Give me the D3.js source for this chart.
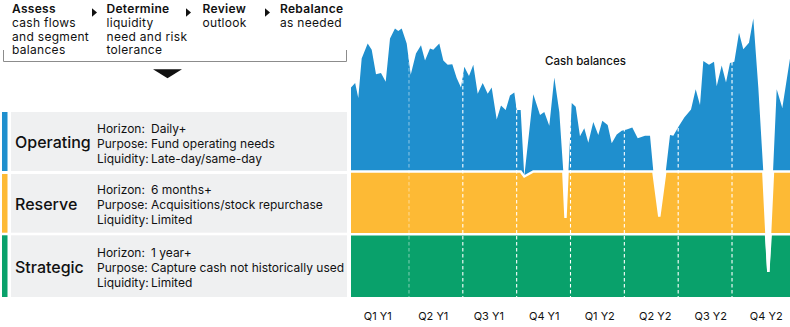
<!DOCTYPE html>
<html><head><meta charset="utf-8">
<script src="https://cdn.jsdelivr.net/npm/d3@7"></script>
<style>
html,body{margin:0;padding:0;background:#fff;}
svg{display:block;font-family:Inter,"Noto Sans",sans-serif;}
</style></head><body>
<svg id="chart" width="790" height="327"></svg>
<script>
// ---- data ----
const weeks = [-1,0,0.76,1.58,3.03,4.0,5.04,6.24,7.38,8.42,9.62,10.42,11.24,12.45,13.42,14.69,15.9,16.87,18.08,18.87,20.32,21.29,22.35,23.46,24.52,25.56,26.36,27.49,28.53,29.59,30.8,32.01,32.97,34.18,35.22,36.35,37.39,38.43,39.01,39.97,40.84,43.02,44.64,45.67,46.88,48.09,49.3,50.26,50.79,51.3,51.5,52.3,53.26,54.29,55.33,56.3,57.5,58.71,59.68,60.98,61.95,63.16,64.36,65.57,66.92,68.23,69.99,71.2,72.0,73.44,74.9,75.0,76.03,76.82,78.03,79.48,81.1,82.23,83.27,84.07,85.44,86.65,87.3,88.51,89.55,90.51,91.55,92.69,93.72,95.1,96.14,97.35,98.55,99.2,99.76,100.35,100.9,101.79,103.14,105];
const operating = [134,141,117,180,204,194,155,157,143,212,228,224,228,204,154,188,201,177,196,194,204,177,170,171,149,134,167,152,170,124,141,124,134,83,105,98,121,126,98,98,0,123,90,95,73,150,95,0,0,0,0,109,103,56,69,46,79,58,81,74,45,59,65,67,70,53,57,57,0,0,0,0,58,57,71,86,99,131,106,176,170,175,136,169,142,173,175,221,195,205,244,134,0,0,0,0,0,131,101,180];
const reserve = [100,100,100,100,100,100,100,100,100,100,100,100,100,100,100,100,100,100,100,100,100,100,100,100,100,100,100,100,100,100,100,100,100,100,100,100,100,100,100,100,92,100,100,100,100,100,100,100,26,100,100,100,100,100,100,100,100,100,100,100,100,100,100,100,100,100,100,100,100,28,100,100,100,100,100,100,100,100,100,100,100,100,100,100,100,100,100,100,100,100,100,100,100,14,0,23,100,100,100,100];
const strategic = [100,100,100,100,100,100,100,100,100,100,100,100,100,100,100,100,100,100,100,100,100,100,100,100,100,100,100,100,100,100,100,100,100,100,100,100,100,100,100,100,100,100,100,100,100,100,100,100,100,100,100,100,100,100,100,100,100,100,100,100,100,100,100,100,100,100,100,100,100,100,100,100,100,100,100,100,100,100,100,100,100,100,100,100,100,100,100,100,100,100,100,100,100,100,40,100,100,100,100,100];
const quarterLabels = ["Q1 Y1","Q2 Y1","Q3 Y1","Q4 Y1","Q1 Y2","Q2 Y2","Q3 Y2","Q4 Y2"];
const quarterBreaks = [13,26,39,52,65,78,91];
const segmentNames = ["Operating","Reserve","Strategic"];
const horizons = ["Daily+","6 months+","1 year+"];
const purposes = ["Fund operating needs","Acquisitions/stock repurchase","Capture cash not historically used"];
const liquidity = ["Late-day/same-day","Limited","Limited"];
const steps = [["Assess","cash flows","and segment","balances"],["Determine","liquidity","need and risk","tolerance"],["Review","outlook"],["Rebalance","as needed"]];
const chartTitle = "Cash balances";

// ---- styles ----
const colors = {operating:"#1f8fce", reserve:"#fdba35", strategic:"#09a16b"};
const ink = "#111";
const svg = d3.select("#chart");

const x = d3.scaleLinear().domain([-1,105]).range([351,790]);
const y = d3.scaleLinear().domain([0,200]).range([297,171.5]);
const xLabel = d3.scaleBand().domain(quarterLabels).range([350,794]);

const rows = weeks.map((w,i)=>({week:w, strategic:strategic[i], reserve:reserve[i], operating:operating[i]}));
const keys = ["strategic","reserve","operating"];
const stacked = d3.stack().keys(keys)(rows);

const area = d3.area().x(d=>x(d.data.week)).y0(d=>y(d[0])).y1(d=>y(d[1]));
svg.append("g").selectAll("path").data(stacked).join("path")
  .attr("d",area).attr("fill",d=>colors[d.key]);

// white separators at top of strategic and reserve layers
const topLine = d3.line().x(d=>x(d.data.week)).y(d=>y(d[1]));
svg.append("g").selectAll("path").data(stacked.slice(0,2)).join("path")
  .attr("d",topLine).attr("fill","none").attr("stroke","#fff").attr("stroke-width",2.4);

// quarter dashed lines
svg.append("g").selectAll("line").data(quarterBreaks).join("line")
  .attr("x1",d=>x(d)).attr("x2",d=>x(d)).attr("y1",14).attr("y2",y(0))
  .attr("stroke","#fff").attr("stroke-width",1.1).attr("stroke-dasharray","3.5,2.5")
  .attr("opacity",(d,i)=>i===0?0.45:1);

// quarter labels
svg.append("g").selectAll("text").data(quarterLabels).join("text")
  .attr("x",d=>xLabel(d)+xLabel.bandwidth()/2).attr("y",320).attr("text-anchor","middle")
  .attr("font-size",11).attr("fill",ink).text(d=>d);

// title
svg.append("text").attr("x",545).attr("y",65).attr("font-size",11.5).attr("font-weight",500)
  .attr("fill",ink).text(chartTitle);

// ---- left panel ----
const rowBounds = [[112,171],[174,232.7],[235.3,y(0)]];
const panel = svg.append("g");
rowBounds.forEach((b,i)=>{
  const c = (b[0]+b[1])/2;
  panel.append("rect").attr("x",2).attr("y",b[0]).attr("width",5.5).attr("height",b[1]-b[0])
    .attr("fill",colors[keys[2-i]]);
  panel.append("rect").attr("x",11).attr("y",b[0]).attr("width",336).attr("height",b[1]-b[0])
    .attr("fill","#eff0f1");
  panel.append("text").attr("x",15).attr("y",c+6.8).attr("font-size",16).attr("font-weight",500)
    .attr("fill",ink).text(segmentNames[i]);
  const det = [["Horizon:",horizons[i]],["Purpose:",purposes[i]],["Liquidity:",liquidity[i]]];
  det.forEach((d,j)=>{
    panel.append("text").attr("x",97).attr("y",c-9+15*j).attr("font-size",12).attr("fill",ink).text(d[0]);
    panel.append("text").attr("x",151).attr("y",c-9+15*j).attr("font-size",12).attr("fill",ink).text(d[1]);
  });
});

// ---- process steps ----
const stepX = [12,106.5,202.5,280];
const arrowX = [92,186,265];
steps.forEach((s,i)=>{
  const t = svg.append("text").attr("font-size",12).attr("letter-spacing",0.3).attr("fill",ink);
  s.forEach((line,j)=>{
    t.append("tspan").attr("x",stepX[i]).attr("y",12.7+13.9*j)
      .attr("font-weight",j===0?600:400).text(line);
  });
});
svg.append("g").selectAll("path").data(arrowX).join("path")
  .attr("d",d=>`M${d},8.3L${d+5},12.5L${d},16.7Z`).attr("fill",ink);
svg.append("path").attr("d","M3.5,50V61.5H346.5V50").attr("fill","none")
  .attr("stroke","#8c8c8c").attr("stroke-width",1);
svg.append("path").attr("d","M153,69.3L182,69.3L167.5,78.3Z").attr("fill",ink);
</script>
</body></html>
